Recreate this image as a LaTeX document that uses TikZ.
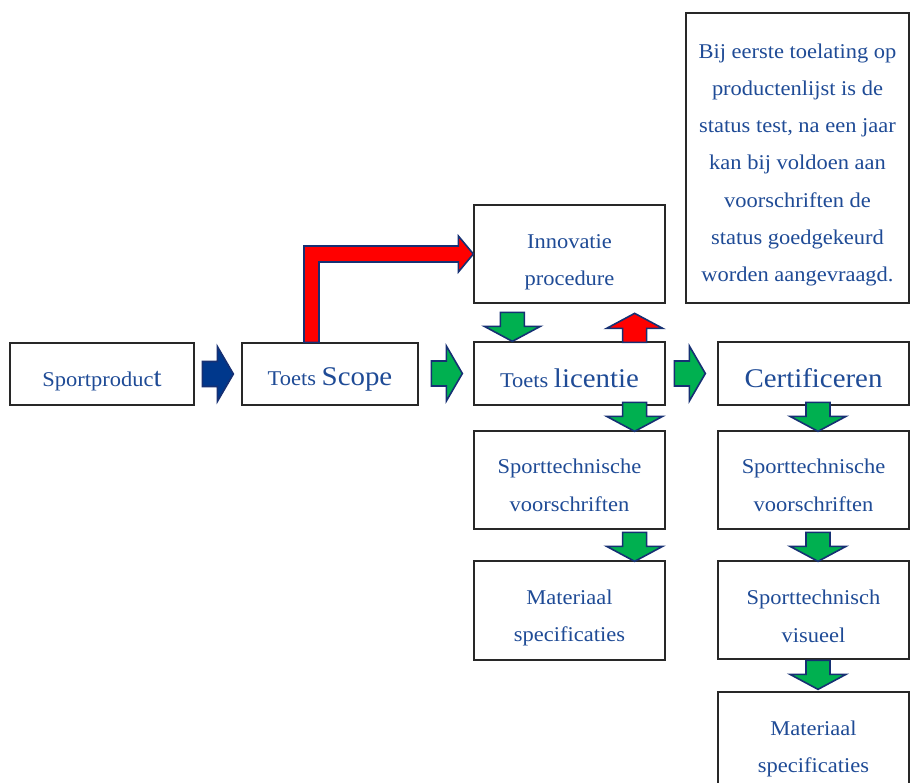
\documentclass[tikz,border=0pt]{standalone}
\usepackage{fontspec}
\setmainfont{Liberation Serif}[FakeStretch=1.07]
\usetikzlibrary{calc}
\definecolor{txt}{RGB}{31,75,150}
\definecolor{gfill}{RGB}{0,176,80}
\definecolor{aline}{RGB}{22,48,115}
\definecolor{bfill}{RGB}{0,56,140}
\definecolor{rfill}{RGB}{255,0,0}
\definecolor{boxline}{RGB}{40,40,40}
\newcommand\mytopstrut[1][28.5pt]{\rule{0pt}{#1}}
\begin{document}
\begin{tikzpicture}[x=1pt,y=-1pt,
  box/.style={draw=boxline,line width=1.3pt,fill=white,text=txt,align=center,
    font=\fontsize{21}{37.3}\selectfont,inner sep=0pt},
  blk/.style={draw=aline,line width=1.6pt,line join=miter},
  pics/darr/.style={code={\draw[blk,fill=#1] (-12,-29)--(12,-29)--(12,-15)--(28,-15)--(0,0)--(-28,-15)--(-12,-15)--cycle;}},
  pics/uarr/.style={code={\draw[blk,fill=#1] (-12,29)--(12,29)--(12,15)--(28,15)--(0,0)--(-28,15)--(-12,15)--cycle;}},
  pics/rarr/.style={code={\draw[blk,fill=#1] (-31,-12.5)--(-16,-12.5)--(-16,-27.5)--(0,0)--(-16,27.5)--(-16,12.5)--(-31,12.5)--cycle;}}
]
\useasboundingbox (0,0) rectangle (920,783);
\fill[white] (0,0) rectangle (920,783);

% boxes
\node[box,minimum width=184pt,minimum height=62pt] (sp) at (102,374)
  {\mytopstrut Sportproduc{\fontsize{27}{30}\selectfont t}};
\node[box,minimum width=176pt,minimum height=62pt] (scope) at (330,374)
  {\mytopstrut Toets {\fontsize{27}{30}\selectfont Scope}};
\node[box,minimum width=191pt,minimum height=63pt] (lic) at (569.5,373.5)
  {\mytopstrut Toets {\fontsize{27}{30}\selectfont licentie}};
\node[box,minimum width=191pt,minimum height=63pt] (cert) at (813.5,373.5)
  {\mytopstrut\fontsize{27}{30}\selectfont Certificeren};
\node[box,minimum width=191pt,minimum height=98pt] (innov) at (569.5,254)
  {\mytopstrut[31pt]Innovatie\\procedure};
\node[box,minimum width=223pt,minimum height=290pt] (note) at (797.5,158)
  {\mytopstrut Bij eerste toelating op\\productenlijst is de\\status test, na een jaar\\kan bij voldoen aan\\voorschriften de\\status goedgekeurd\\worden aangevraagd.};
\node[box,minimum width=191pt,minimum height=98pt] (sv1) at (569.5,480)
  {\mytopstrut[25pt]Sporttechnische\\voorschriften};
\node[box,minimum width=191pt,minimum height=98pt] (sv2) at (813.5,480)
  {\mytopstrut[25pt]Sporttechnische\\voorschriften};
\node[box,minimum width=191pt,minimum height=99pt] (mat1) at (569.5,610.5)
  {\mytopstrut[30pt]Materiaal\\specificaties};
\node[box,minimum width=191pt,minimum height=98pt] (vis) at (813.5,610)
  {\mytopstrut[27pt]Sporttechnisch\\visueel};
\node[box,minimum width=191pt,minimum height=98pt] (mat2) at (813.5,741)
  {\mytopstrut[31pt]Materiaal\\specificaties};

% horizontal block arrows
\pic at ($(scope.west)+(-8,0)$) {rarr=bfill};
\pic at ($(lic.west)+(-11,0)$) {rarr=gfill};
\pic at ($(cert.west)+(-12,0)$) {rarr=gfill};

% vertical block arrows
\pic at ($(lic.north west)+(39,0)$) {darr=gfill};
\pic at ($(lic.north east)+(-31,-28)$) {uarr=rfill};
\pic at ($(sv1.north east)+(-31,1)$) {darr=gfill};
\pic at ($(mat1.north east)+(-31,1)$) {darr=gfill};
\pic at ($(sv2.north)+(4.5,1)$) {darr=gfill};
\pic at ($(vis.north)+(4.5,1)$) {darr=gfill};
\pic at ($(mat2.north)+(4.5,-2)$) {darr=gfill};

% bent red arrow from scope to innovation
\coordinate (rtip) at (innov.west);
\draw[blk,fill=rfill] ($(scope.north)+(-26,0)$) |- ($(rtip)+(-15,-8)$)
  -- ($(rtip)+(-15,-18)$) -- (rtip) -- ($(rtip)+(-15,18)$) -- ($(rtip)+(-15,8)$)
  -| ($(scope.north)+(-11,0)$) -- cycle;
\end{tikzpicture}
\end{document}
